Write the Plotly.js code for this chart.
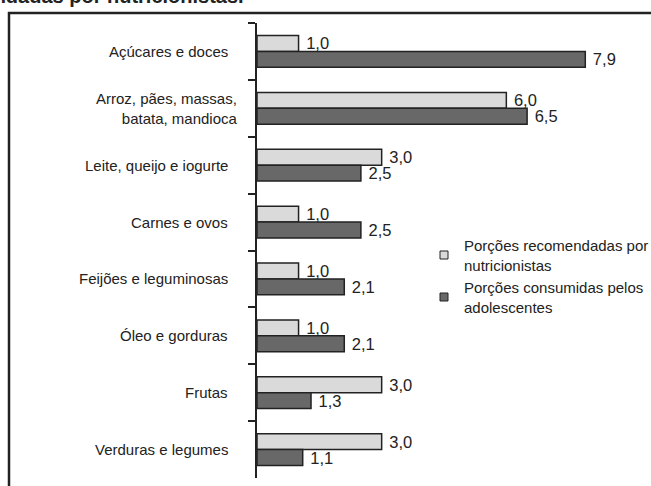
<!DOCTYPE html>
<html><head><meta charset="utf-8">
<script src="https://cdn.plot.ly/plotly-3.0.1.min.js"></script>
<style>html,body{margin:0;padding:0;background:#fff}#chart{width:651px;height:486px}</style>
</head><body><div id="chart"></div>
<script>
const categories = ["Açúcares e doces", "Arroz, pães, massas,<br>batata, mandioca", "Leite, queijo e iogurte", "Carnes e ovos", "Feijões e leguminosas", "Óleo e gorduras", "Frutas", "Verduras e legumes"];
const recomendadas = [1.0, 6.0, 3.0, 1.0, 1.0, 1.0, 3.0, 3.0];
const consumidas = [7.9, 6.5, 2.5, 2.5, 2.1, 2.1, 1.3, 1.1];
const seriesNames = ["Porções recomendadas por<br>nutricionistas", "Porções consumidas pelos<br>adolescentes"];
const titleFragment = "Porções recomendadas por nutricionistas.";

const FONT = 'Liberation Sans, Arial, sans-serif';
const INK = '#222222';
const LIGHT = '#dadada';
const DARK = '#686868';
const FS = 15;
const fmt = v => '\u00a0' + v.toFixed(1).replace('.', ',');

const W = 651, H = 486, L = 257, T = 23, B = 8, PW = 374;
const PH = H - T - B;
const px2x = p => (p - L) / PW;
const px2y = p => 1 - (p - T) / PH;

function barTrace(vals, color, name) {
  return {
    type: 'bar', orientation: 'h', y: categories, x: vals, name: name,
    marker: {color: color, line: {color: INK, width: 1.5}},
    text: vals.map(fmt), textposition: 'outside', constraintext: 'none', cliponaxis: false,
    textfont: {family: FONT, size: 16.5, color: INK},
    showlegend: false, hoverinfo: 'skip'
  };
}
function legendTrace(color, name) {
  return {
    type: 'scatter', mode: 'markers', x: [null], y: [null], name: name,
    marker: {symbol: 'square', size: 8, color: color, line: {color: INK, width: 1}},
    showlegend: true, hoverinfo: 'skip'
  };
}

const data = [
  barTrace(recomendadas, LIGHT, seriesNames[0]),
  barTrace(consumidas, DARK, seriesNames[1]),
  legendTrace(LIGHT, seriesNames[0]),
  legendTrace(DARK, seriesNames[1])
];

const annotations = categories.map((c, i) => ({
  xref: 'paper', yref: 'y', x: px2x(c.indexOf('<br>') >= 0 ? 240 : 230), y: i,
  xanchor: 'right', yanchor: 'middle', align: 'right', showarrow: false,
  text: c, font: {family: FONT, size: FS, color: INK}
}));
annotations.push({
  xref: 'paper', yref: 'paper', x: px2x(246), y: px2y(9),
  xanchor: 'right', yanchor: 'bottom', showarrow: false,
  text: '<b>' + titleFragment + '</b>', font: {family: FONT, size: 20, color: INK}
});

const layout = {
  width: W, height: H,
  margin: {l: L, r: W - L - PW, t: T, b: B, pad: 0, autoexpand: false},
  paper_bgcolor: '#ffffff', plot_bgcolor: '#ffffff',
  font: {family: FONT, size: FS, color: INK},
  barmode: 'group', bargap: 0.44, bargroupgap: 0,
  xaxis: {range: [0, 9], visible: false, fixedrange: true},
  yaxis: {
    type: 'category', autorange: 'reversed', showgrid: false, zeroline: false,
    showline: true, linecolor: INK, linewidth: 2,
    ticks: 'outside', tickson: 'boundaries', ticklen: 7, tickwidth: 2, tickcolor: INK,
    showticklabels: false, fixedrange: true
  },
  showlegend: true,
  legend: {
    x: px2x(424), y: px2y(229), xanchor: 'left', yanchor: 'top',
    bgcolor: 'rgba(0,0,0,0)', borderwidth: 0, itemwidth: 30,
    font: {family: FONT, size: FS, color: INK}, tracegroupgap: 0
  },
  shapes: [{
    type: 'rect', xref: 'paper', yref: 'paper',
    x0: px2x(9), x1: px2x(670), y0: px2y(500), y1: px2y(13),
    line: {color: INK, width: 2.5}, fillcolor: 'rgba(0,0,0,0)', layer: 'above'
  }],
  annotations: annotations
};

Plotly.newPlot('chart', data, layout, {displayModeBar: false, staticPlot: true});
</script>
</body></html>
